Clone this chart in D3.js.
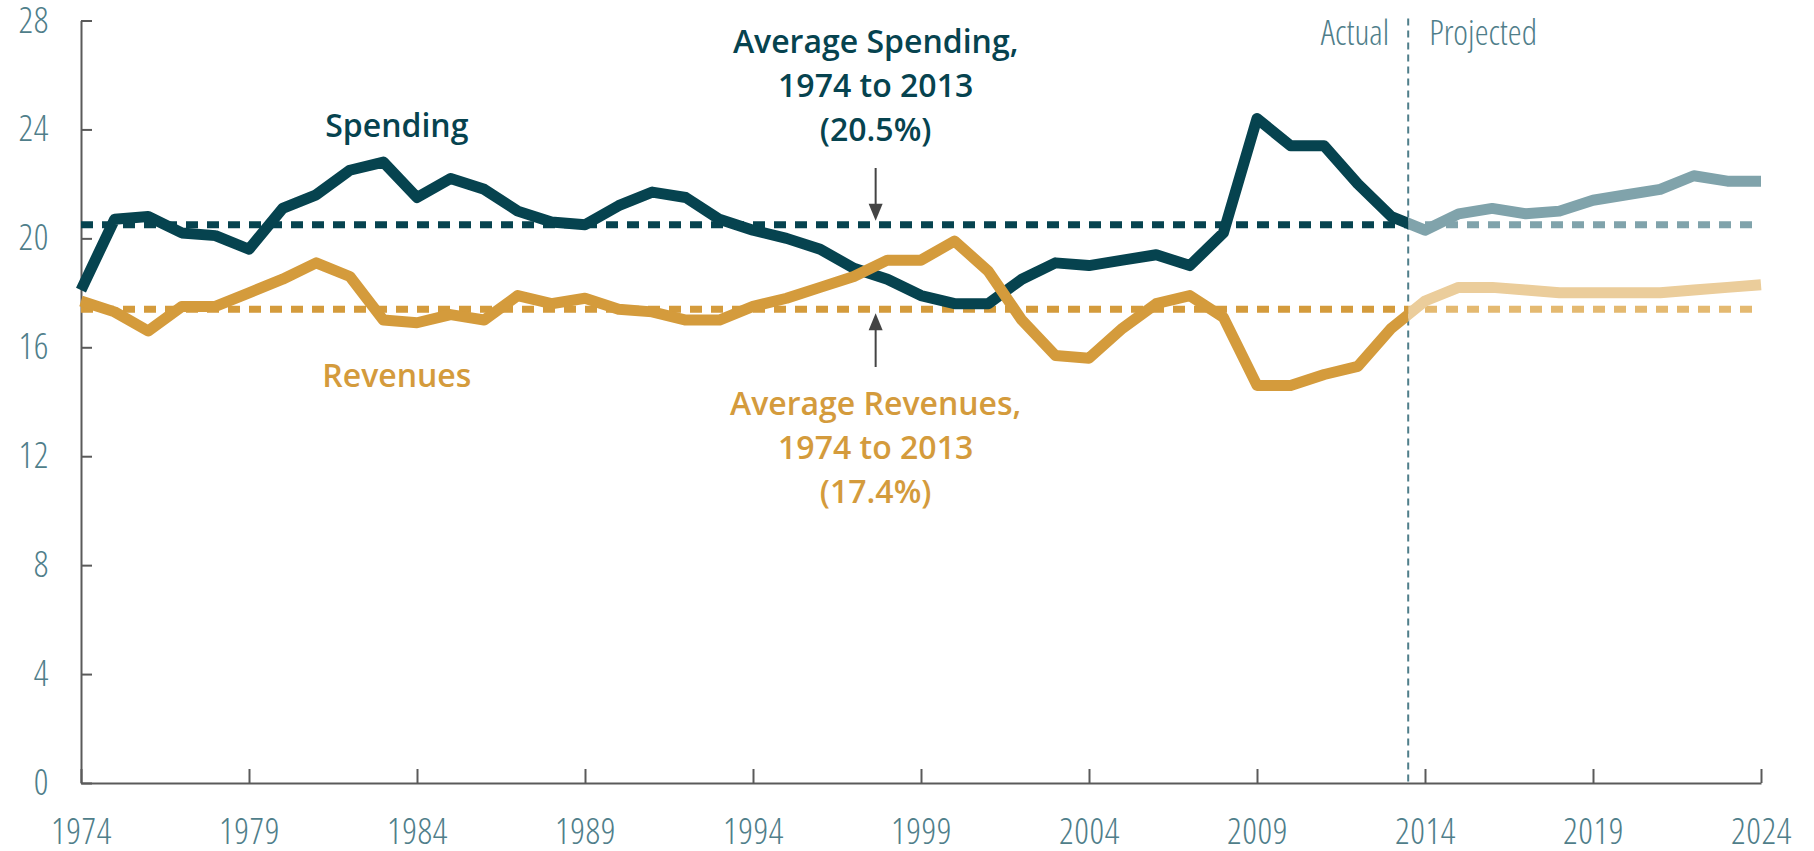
<!DOCTYPE html>
<html>
<head>
<meta charset="utf-8">
<script src="https://cdn.jsdelivr.net/npm/d3@7"></script>
<style>
  body { margin: 0; background: #fff; }
  .axis text, .light { font-family: "Open Sans", sans-serif; font-weight: 300; font-stretch: 75%; fill: #4f7e8a; }
  .axis text { font-size: 36px; letter-spacing: 0.6px; }
  .light { font-size: 35px; }
  .axis path, .axis line { stroke: #5a5a5a; stroke-width: 2; }
  .note { font-family: "Open Sans", sans-serif; font-weight: 600; font-size: 32px; text-anchor: middle; }
</style>
</head>
<body>
<script>
// spending vs revenues, share of GDP, actual 1974-2013 and projected 2014-2024

var years = d3.range(1974, 2025);

var spending = [18.1, 20.7, 20.8, 20.2, 20.1, 19.6, 21.1, 21.6, 22.5, 22.8,
                21.5, 22.2, 21.8, 21.0, 20.6, 20.5, 21.2, 21.7, 21.5, 20.7,
                20.3, 20.0, 19.6, 18.9, 18.5, 17.9, 17.6, 17.6, 18.5, 19.1,
                19.0, 19.2, 19.4, 19.0, 20.2, 24.4, 23.4, 23.4, 22.0, 20.8,
                20.3, 20.9, 21.1, 20.9, 21.0, 21.4, 21.6, 21.8, 22.3, 22.1, 22.1];

var revenues = [17.7, 17.3, 16.6, 17.5, 17.5, 18.0, 18.5, 19.1, 18.6, 17.0,
                16.9, 17.2, 17.0, 17.9, 17.6, 17.8, 17.4, 17.3, 17.0, 17.0,
                17.5, 17.8, 18.2, 18.6, 19.2, 19.2, 19.9, 18.8, 17.0, 15.7,
                15.6, 16.7, 17.6, 17.9, 17.1, 14.6, 14.6, 15.0, 15.3, 16.7,
                17.7, 18.2, 18.2, 18.1, 18.0, 18.0, 18.0, 18.0, 18.1, 18.2, 18.3];

var avgSpending = 20.5,
    avgRevenues = 17.4;

var splitYear = 2013.5;   // actual | projected
var xTicks = [1974, 1979, 1984, 1989, 1994, 1999, 2004, 2009, 2014, 2019, 2024];
var yTicks = [0, 4, 8, 12, 16, 20, 24, 28];

var width = 1814, height = 851;

var svg = d3.select("body").append("svg")
    .attr("width", width)
    .attr("height", height);

var x = d3.scaleLinear().domain([1974, 2024]).range([81, 1761]),
    y = d3.scaleLinear().domain([0, 28]).range([783, 20.5]);

var colors = {
  spend: "#06434f", spendProj: "#80a3ab",
  rev: "#d49b3c", revProj: "#ebcd9b", revAvgProj: "#e4b970"
};

// clip regions either side of the split
var defs = svg.append("defs");
defs.append("clipPath").attr("id", "clip-actual")
  .append("rect")
    .attr("x", 0).attr("y", 0)
    .attr("width", x(splitYear)).attr("height", height);
defs.append("clipPath").attr("id", "clip-proj")
  .append("rect")
    .attr("x", x(splitYear)).attr("y", 0)
    .attr("width", width - x(splitYear)).attr("height", height);

// axes
svg.append("g")
    .attr("class", "axis axis--y")
    .attr("transform", "translate(" + x(1974) + ",0)")
    .call(d3.axisLeft(y).tickValues(yTicks).tickSizeInner(-11).tickSizeOuter(0).tickPadding(32));

svg.append("g")
    .attr("class", "axis axis--x")
    .attr("transform", "translate(0," + y(0) + ")")
    .call(d3.axisBottom(x).tickValues(xTicks).tickFormat(d3.format("d"))
      .tickSizeInner(-14).tickSizeOuter(0).tickPadding(35));

// divider between actual and projected
svg.append("line")
    .attr("x1", x(splitYear)).attr("x2", x(splitYear))
    .attr("y1", y(28) - 2).attr("y2", y(0))
    .style("stroke", "#4f7e8a")
    .style("stroke-width", 2)
    .style("stroke-dasharray", "7,5");

svg.append("text")
    .attr("class", "light")
    .attr("x", x(splitYear) - 19).attr("y", 45)
    .style("text-anchor", "end")
    .text("Actual");

svg.append("text")
    .attr("class", "light")
    .attr("x", x(splitYear) + 21).attr("y", 45)
    .text("Projected");

// average lines (dashed)
var avgLine = d3.line()
    .x(function(d) { return x(d.year); })
    .y(function(d) { return y(d.v); });

function avgData(v) { return [{year: 1974, v: v}, {year: 2024, v: v}]; }

[[avgSpending, colors.spend, colors.spendProj], [avgRevenues, colors.rev, colors.revAvgProj]].forEach(function(a) {
  svg.append("path")
      .attr("d", avgLine(avgData(a[0])))
      .attr("clip-path", "url(#clip-actual)")
      .style("fill", "none").style("stroke", a[1])
      .style("stroke-width", 7).style("stroke-dasharray", "12,9");
  svg.append("path")
      .attr("d", avgLine(avgData(a[0])))
      .attr("clip-path", "url(#clip-proj)")
      .style("fill", "none").style("stroke", a[2])
      .style("stroke-width", 7).style("stroke-dasharray", "12,9");
});

// series
var line = d3.line()
    .x(function(d, i) { return x(years[i]); })
    .y(function(d) { return y(d); });

[[spending, colors.spend, colors.spendProj], [revenues, colors.rev, colors.revProj]].forEach(function(s) {
  svg.append("path")
      .attr("d", line(s[0]))
      .attr("clip-path", "url(#clip-proj)")
      .style("fill", "none").style("stroke", s[2])
      .style("stroke-width", 11).style("stroke-linejoin", "round");
  svg.append("path")
      .attr("d", line(s[0]))
      .attr("clip-path", "url(#clip-actual)")
      .style("fill", "none").style("stroke", s[1])
      .style("stroke-width", 11).style("stroke-linejoin", "round");
});

// annotations
var noteX = x(1997.65);

function arrow(xp, yFrom, yTo) {
  var dir = yTo > yFrom ? 1 : -1;
  svg.append("line")
      .attr("x1", xp).attr("x2", xp)
      .attr("y1", yFrom).attr("y2", yTo - dir * 14)
      .style("stroke", "#444").style("stroke-width", 2);
  svg.append("path")
      .attr("d", "M" + (xp - 7) + "," + (yTo - dir * 17) + "L" + (xp + 7) + "," + (yTo - dir * 17) + "L" + xp + "," + yTo + "Z")
      .style("fill", "#444");
}

arrow(noteX, 168, y(avgSpending) - 4);
arrow(noteX, 367, y(avgRevenues) + 4);

var spendNote = svg.append("text").attr("class", "note").style("fill", colors.spend);
["Average Spending,", "1974 to 2013", "(20.5%)"].forEach(function(t, i) {
  spendNote.append("tspan").attr("x", noteX).attr("y", 53 + i * 44).text(t);
});

var revNote = svg.append("text").attr("class", "note").style("fill", colors.rev);
["Average Revenues,", "1974 to 2013", "(17.4%)"].forEach(function(t, i) {
  revNote.append("tspan").attr("x", noteX).attr("y", 415 + i * 44).text(t);
});

svg.append("text").attr("class", "note")
    .attr("x", x(1983.4)).attr("y", 137)
    .style("fill", colors.spend)
    .text("Spending");

svg.append("text").attr("class", "note")
    .attr("x", x(1983.4)).attr("y", 387)
    .style("fill", colors.rev)
    .text("Revenues");
</script>
</body>
</html>
